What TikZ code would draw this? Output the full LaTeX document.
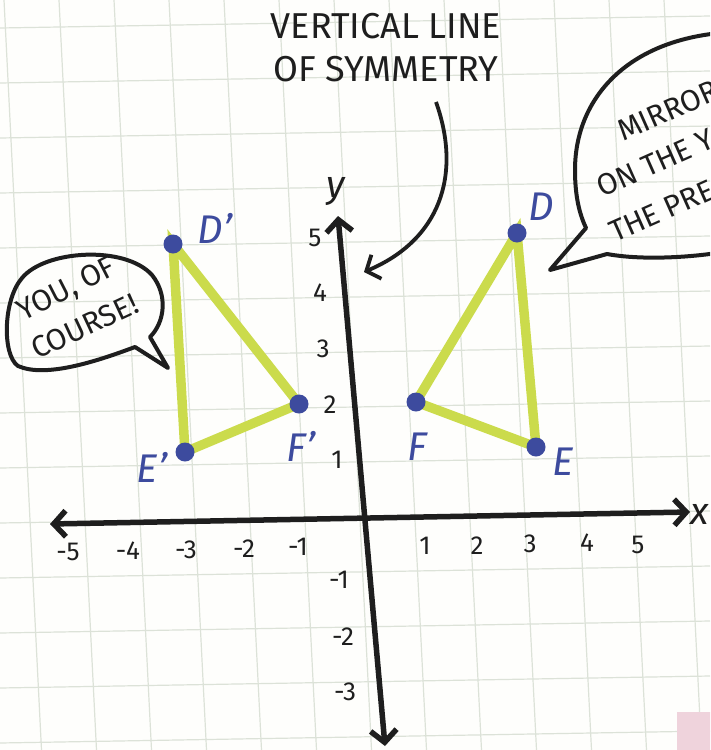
\documentclass[tikz,border=0pt]{standalone}
\usepackage{fontspec}
\setmainfont{Fira Sans}
\usetikzlibrary{arrows.meta, positioning, backgrounds}
\definecolor{Paper}{HTML}{FEFEFC}
\definecolor{GridLine}{HTML}{DCE2D8}
\definecolor{Ink}{HTML}{1E1E1E}
\definecolor{Lime}{HTML}{CBDB4C}
\definecolor{Dot}{HTML}{3D4B9E}
\definecolor{Blush}{HTML}{EFD3DC}

\begin{document}
\begin{tikzpicture}[x=1pt, y=-1pt,
        gridline/.style={line width=1.2pt, color=GridLine},
        axisline/.style={line width=5.5pt, color=Ink, {Straight Barb[length=12pt, width=26pt]}-{Straight Barb[length=12pt, width=26pt]}},
        pointer/.style={line width=3.8pt, color=Ink, -{Straight Barb[length=11pt, width=26pt]}},
        side/.style={line width=9.5pt, color=Lime, line cap=round},
        dot/.style={circle, fill=Dot, minimum size=19pt, inner sep=0pt},
        ptlabel/.style={text=Dot, font=\fontsize{40}{40}\selectfont\itshape, inner sep=0pt},
        ticklabel/.style={text=Ink, font=\fontsize{26}{26}\selectfont, inner sep=0pt},
        axisname/.style={text=Ink, font=\fontsize{38}{38}\selectfont\itshape, inner sep=0pt},
        note/.style={text=Ink, font=\fontsize{36}{43}\selectfont, align=center, inner sep=0pt},
        say/.style={text=Ink, font=\fontsize{30}{30}\selectfont, inner sep=0pt, anchor=base west},
        bubble/.style={line width=4pt, color=Ink, line join=round}
      ]
        \useasboundingbox (0,0) rectangle (710,750);
        \clip (0,0) rectangle (710,750);

        % axes
        \coordinate (xl) at (50,524);
        \coordinate (xr) at (690,512);
        \coordinate (yt) at (338,216);
        \coordinate (yb) at (385,746);
        \draw[axisline] (xl) -- (xr);
        \draw[axisline] (yb) -- (yt);
        \node[axisname] (xname) at (700,514) {x};
        \node[axisname] (yname) at (336,192) {y};

        \foreach \v/\px/\py in {-5/68/552, -4/128/551, -3/186/550, -2/244/549, -1/298/547,
                                1/425/546, 2/477/546, 3/530/544, 4/587/543, 5/638/545}
          \node[ticklabel] (xt\v) at (\px,\py) {\v};
        \foreach \v/\px/\py in {5/315/238, 4/320/293, 3/323/349, 2/330/405, 1/337/460,
                                -1/339/580, -2/343/637, -3/345/692}
          \node[ticklabel] (yt\v) at (\px,\py) {\v};

        % pre-image and image
        \node[dot] (D) at (517,233) {};
        \node[dot] (E) at (536,447) {};
        \node[dot] (F) at (416,402) {};
        \node[dot] (Dp) at (173,244) {};
        \node[dot] (Ep) at (185,452) {};
        \node[dot] (Fp) at (299,404) {};

        \node[ptlabel] (Dlab) at (541,207) {D};
        \node[ptlabel] (Elab) at (563,462) {E};
        \node[ptlabel] (Flab) at (417,447) {F};
        \node[ptlabel] (Dplab) at (215,228) {D'};
        \node[ptlabel] (Eplab) at (152,467) {E'};
        \node[ptlabel] (Fplab) at (301,446) {F'};

        \begin{scope}[on background layer]
          \fill[Paper] (0,0) rectangle (710,750);
          \foreach \k in {-1,...,13}
            \draw[gridline] ({4+55*\k},0) -- ({41.5+55*\k},750);
          \foreach \k in {0,...,13}
            \draw[gridline] (0,{28+55*\k}) -- (710,{16+55*\k});
          \draw[side] (D.center) -- (E.center) -- (F.center) -- cycle;
          \draw[side] (Dp.center) -- (Ep.center) -- (Fp.center) -- cycle;
        \end{scope}

        % title and pointer
        \node[note] (title) at (386,48) {VERTICAL LINE\\OF SYMMETRY};
        \coordinate (symtail) at (436,102);
        \coordinate (symhead) at (364,272);
        \draw[pointer] (symtail) .. controls (462,175) and (440,240) .. (symhead);

        % speech bubbles
        \draw[bubble] (135,347) .. controls (95,362) and (45,378) .. (18,366)
          .. controls (2,355) and (3,300) .. (22,278)
          .. controls (45,250) and (125,245) .. (152,275)
          .. controls (168,295) and (165,322) .. (150,337) -- (168,368) -- cycle;
        \node[say, rotate=27] (youof) at (23,322) {YOU, OF};
        \node[say, rotate=25] (course) at (37,360) {COURSE!};

        \draw[bubble] (760,32) .. controls (640,27) and (575,90) .. (575,170)
          .. controls (575,198) and (580,215) .. (586,228) -- (550,270) -- (607,254)
          .. controls (650,262) and (720,256) .. (760,244);
        \node[say, rotate=24] (mirror) at (623,142) {MIRROR};
        \node[say, rotate=24] (onthey) at (602,198) {ON THE Y};
        \node[say, rotate=24] (thepre) at (615,243) {THE PRE};

        \fill[Blush] (677,712) rectangle (712,752);
      \end{tikzpicture}
\end{document}
